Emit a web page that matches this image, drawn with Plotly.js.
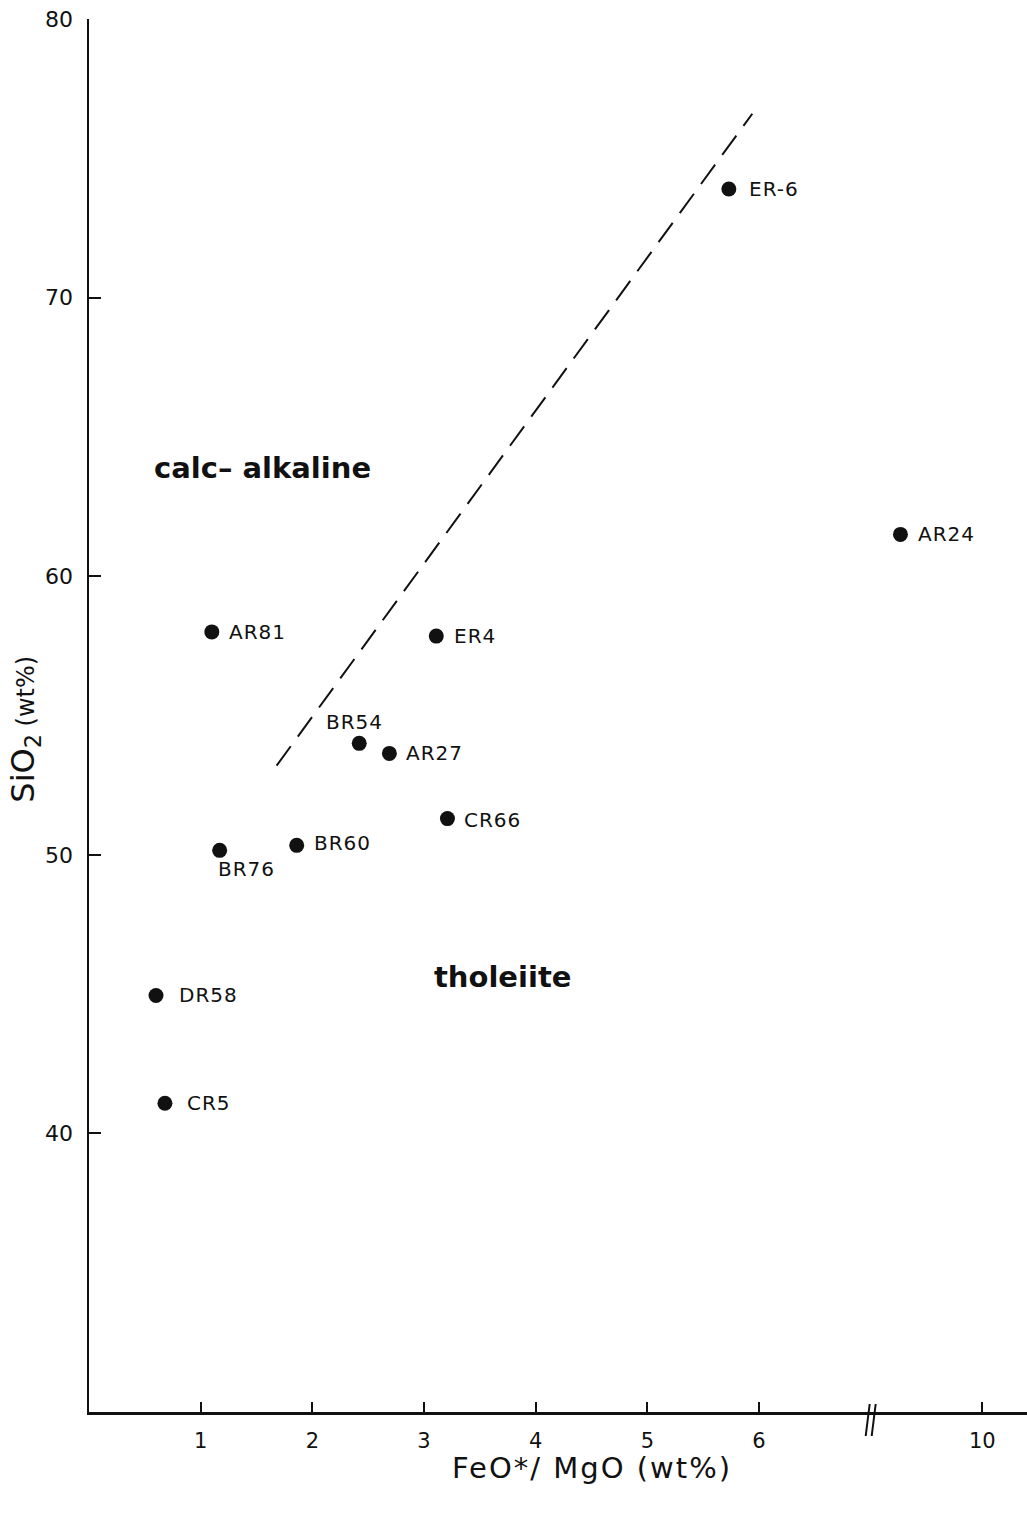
<!DOCTYPE html>
<html>
<head>
<meta charset="utf-8">
<script src="https://cdn.plot.ly/plotly-3.0.1.min.js"></script>
<style>html,body{margin:0;padding:0;background:#fff;}</style>
</head>
<body>
<div id="chart" style="width:1027px;height:1514px;"></div>
<script>
// ---- data ----
var sampleNames = ["ER-6", "AR24", "AR81", "ER4", "BR54", "AR27", "CR66", "BR60", "BR76", "DR58", "CR5"];
var feoMgo     = [5.73, 7.8, 1.10, 3.11, 2.42, 2.69, 3.21, 1.86, 1.17, 0.60, 0.68];
var sio2       = [73.9, 61.5, 58.0, 57.85, 54.0, 53.64, 51.3, 50.34, 50.16, 44.95, 41.08];

var boundaryFeoMgo = [1.68, 5.94];
var boundarySio2   = [53.2, 76.6];

var xTickValues = [1, 2, 3, 4, 5, 6, 10];
var xTickLabels = ["1", "2", "3", "4", "5", "6", "10"];
var yTickValues = [40, 50, 60, 70, 80];
var yTickLabels = ["40", "50", "60", "70", "80"];

var fieldNames = ["calc\u2013 alkaline", "tholeiite"];
var fieldFeoMgo = [1.55, 3.70];
var fieldSio2   = [63.9, 45.6];

// ---- broken x axis: linear up to the break at 7, then compressed so 10 sits one unit further ----
var BREAK = 7;
function toAxis(v) { return v <= BREAK ? v : BREAK + (v - BREAK) / 3; }

// ---- label placement (pixel offsets from each dot) ----
var labelPlace = {
  "ER-6": {dx: 18, dy: 0, anchor: "left"},
  "AR24": {dx: 16, dy: 0, anchor: "left"},
  "AR81": {dx: 15, dy: 0, anchor: "left"},
  "ER4":  {dx: 16, dy: 0, anchor: "left"},
  "BR54": {dx: -5, dy: 21, anchor: "center"},
  "AR27": {dx: 15, dy: 0, anchor: "left"},
  "CR66": {dx: 15, dy: -1, anchor: "left"},
  "BR60": {dx: 15, dy: 2, anchor: "left"},
  "BR76": {dx: 27, dy: -19, anchor: "center"},
  "DR58": {dx: 21, dy: 0, anchor: "left"},
  "CR5":  {dx: 20, dy: 0, anchor: "left"}
};

var FONT = "DejaVu Sans, Verdana, sans-serif";
var xRange = [0, 8.4];
var yRange = [30, 80];

var xs = feoMgo.map(toAxis);

var traces = [
  {
    x: boundaryFeoMgo.map(toAxis), y: boundarySio2,
    mode: "lines", type: "scatter",
    line: {color: "#111", width: 2, dash: "24px,12px"},
    hoverinfo: "skip", showlegend: false
  },
  {
    x: xs, y: sio2, text: sampleNames,
    mode: "markers", type: "scatter",
    marker: {color: "#111", size: 15, line: {width: 0}},
    showlegend: false, cliponaxis: false
  }
];

var annotations = [];
sampleNames.forEach(function (n, i) {
  var p = labelPlace[n];
  annotations.push({
    x: xs[i], y: sio2[i], xref: "x", yref: "y",
    text: "<span style=\"letter-spacing:1px\">" + n + "</span>", showarrow: false,
    xanchor: p.anchor, yanchor: "middle",
    xshift: p.dx, yshift: p.dy,
    font: {family: FONT, size: 20, color: "#111"}
  });
});
fieldNames.forEach(function (n, i) {
  annotations.push({
    x: toAxis(fieldFeoMgo[i]), y: fieldSio2[i], xref: "x", yref: "y",
    text: "<b>" + n + "</b>", showarrow: false,
    xanchor: "center", yanchor: "middle",
    font: {family: FONT, size: 29, color: "#111"}
  });
});
// axis titles
annotations.push({
  xref: "paper", yref: "paper", x: -0.068, y: 0.49,
  text: "SiO<sub>2</sub><span style=\"font-size:24px\"> (wt%)</span>",
  textangle: -90, showarrow: false, xanchor: "center", yanchor: "middle",
  font: {family: FONT, size: 32, color: "#111"}
});
annotations.push({
  xref: "paper", yref: "paper", x: 0.536, y: -0.040,
  text: "<span style=\"letter-spacing:2px\">FeO*/ MgO (wt%)</span>", showarrow: false,
  xanchor: "center", yanchor: "middle",
  font: {family: FONT, size: 29, color: "#111"}
});

// axis break marks "//"
var plotW = 1027 - 89, plotH = 1514 - 19 - 102;
var bx = (toAxis(BREAK) - xRange[0]) / (xRange[1] - xRange[0]);
var shapes = [-3, 3].map(function (off) {
  return {
    type: "line", xref: "paper", yref: "paper",
    x0: bx + (off - 2) / plotW, y0: -24 / plotH,
    x1: bx + (off + 2) / plotW, y1: 8 / plotH,
    line: {color: "#111", width: 2}
  };
});

var layout = {
  width: 1027, height: 1514,
  margin: {l: 89, r: 0, t: 19, b: 102, pad: 0},
  paper_bgcolor: "#fff", plot_bgcolor: "#fff",
  showlegend: false,
  xaxis: {
    range: xRange, showgrid: false, zeroline: false,
    showline: true, linecolor: "#111", linewidth: 2.5,
    ticks: "inside", ticklen: 10, tickwidth: 2, tickcolor: "#111",
    tickmode: "array", tickvals: xTickValues.map(toAxis), ticktext: xTickLabels,
    tickfont: {family: FONT, size: 21, color: "#111"},
    ticklabelstandoff: 8, automargin: false, fixedrange: true
  },
  yaxis: {
    range: yRange, showgrid: false, zeroline: false,
    showline: true, linecolor: "#111", linewidth: 2.5,
    ticks: "inside", ticklen: 12, tickwidth: 2, tickcolor: "#111",
    tickmode: "array", tickvals: yTickValues, ticktext: yTickLabels,
    tickfont: {family: FONT, size: 22, color: "#111"},
    ticklabelstandoff: 9, automargin: false, fixedrange: true
  },
  annotations: annotations,
  shapes: shapes
};

Plotly.newPlot("chart", traces, layout, {displayModeBar: false, staticPlot: true});
</script>
</body>
</html>
